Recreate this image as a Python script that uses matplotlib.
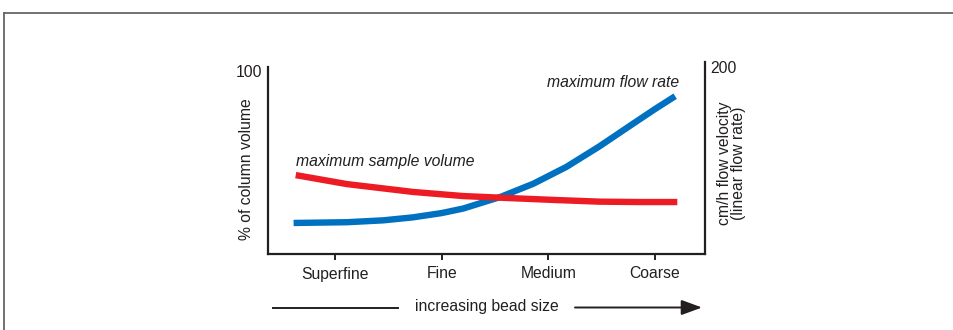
import matplotlib.pyplot as plt
from matplotlib.lines import Line2D

plt.rcParams['font.family'] = ['Liberation Sans', 'DejaVu Sans']

# bead size categories
categories = ['Superfine', 'Fine', 'Medium', 'Coarse']

# maximum flow rate (blue)
flow_x = [-0.39, 0.11, 0.45, 0.73, 1.00, 1.20, 1.55, 1.86, 2.17, 2.48, 2.79, 3.00, 3.19]
flow_y = [16.6, 17.0, 18.0, 19.6, 21.9, 24.3, 30.5, 37.6, 46.6, 57.6, 69.5, 77.5, 84.4]

# maximum sample volume (red)
vol_x = [-0.37, 0.11, 0.73, 1.20, 1.64, 2.06, 2.48, 2.85, 3.21]
vol_y = [42.2, 37.4, 33.2, 31.0, 29.9, 28.9, 28.0, 27.8, 27.8]

W, H = 954, 330
FS = 11.3
INK = '#231f20'
fig = plt.figure(figsize=(W / 100, H / 100), dpi=100)

# outer frame (top and left edges)
fig.add_artist(Line2D([4 / W, 1], [1 - 12.5 / H, 1 - 12.5 / H], color='#666666', lw=1.3))
fig.add_artist(Line2D([4 / W, 4 / W], [0, 1 - 12.5 / H], color='#666666', lw=1.3))

ax = fig.add_axes([268 / W, 1 - 254 / H, (705 - 268) / W, (254 - 62) / H])
ax.set_xlim(-0.63, 3.47)
ax.set_ylim(0, 102.7)

ax.plot(flow_x, flow_y, color='#0070c0', lw=4.6, solid_capstyle='butt', solid_joinstyle='round')
ax.plot(vol_x, vol_y, color='#ed1c24', lw=4.6, solid_capstyle='butt', solid_joinstyle='round')

ax.spines['top'].set_visible(False)
ax.spines['left'].set_bounds(0, 100)
for s in ['left', 'right', 'bottom']:
    ax.spines[s].set_linewidth(1.6)
    ax.spines[s].set_color(INK)

ax.set_xticks(range(len(categories)))
ax.set_xticklabels(categories, fontsize=FS, color=INK)
ax.tick_params(axis='x', direction='out', length=4, width=1.4, pad=5, color=INK)
ax.set_yticks([])

ax.text(-0.68, 97.0, '100', ha='right', va='center', fontsize=FS, color=INK)
ax.text(3.52, 99.2, '200', ha='left', va='center', fontsize=FS, color=INK)
ax.text(-0.83, 45.5, '% of column volume', rotation=90, ha='center', va='center',
        fontsize=FS, color=INK)
ax.text(3.72, 48.7, 'cm/h flow velocity\n(linear flow rate)', rotation=90, ha='center',
        va='center', fontsize=FS, color=INK, linespacing=0.9)

ax.text(-0.37, 49.5, 'maximum sample volume', style='italic', ha='left', va='center',
        fontsize=FS, color=INK)
ax.text(3.23, 91.5, 'maximum flow rate', style='italic', ha='right', va='center',
        fontsize=FS, color=INK)

# increasing bead size arrow
fig.add_artist(Line2D([273 / W, 398 / W], [1 - 307.5 / H, 1 - 307.5 / H], color=INK, lw=1.4))
fig.text(486.5 / W, 1 - 306 / H, 'increasing bead size', ha='center', va='center',
         fontsize=FS, color=INK)
ax.annotate('', xy=(702 / W, 1 - 307.5 / H), xytext=(575 / W, 1 - 307.5 / H),
            xycoords='figure fraction', textcoords='figure fraction',
            arrowprops=dict(arrowstyle='-|>,head_length=0.9,head_width=0.33', color=INK,
                            lw=1.4, mutation_scale=14, shrinkA=0, shrinkB=0))

fig.savefig('out.png', dpi=100)
